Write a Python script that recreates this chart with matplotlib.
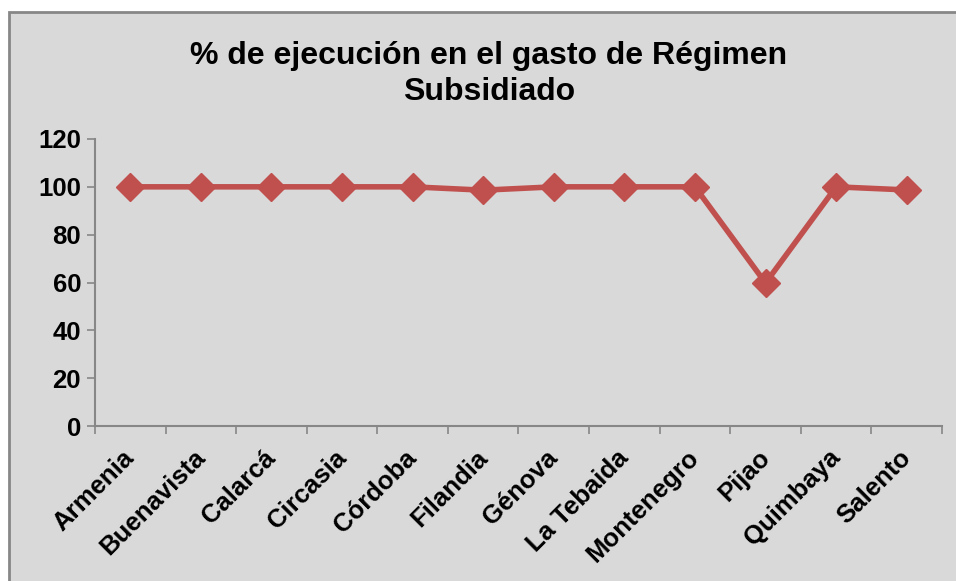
import matplotlib
matplotlib.use("Agg")
import matplotlib.pyplot as plt
from matplotlib.patches import Rectangle
from matplotlib.transforms import ScaledTranslation
import numpy as np

categories = ["Armenia", "Buenavista", "Calarcá", "Circasia", "Córdoba", "Filandia",
              "Génova", "La Tebaida", "Montenegro", "Pijao", "Quimbaya", "Salento"]
values = [100, 100, 100, 100, 100, 98.6, 100, 100, 100, 59.8, 100, 98.7]
yticks = [0, 20, 40, 60, 80, 100, 120]
title = "% de ejecución en el gasto de Régimen\nSubsidiado"

plt.rcParams['font.family'] = ['Liberation Sans', 'DejaVu Sans']
plt.rcParams['font.weight'] = 'bold'

W, H = 956, 581
fig = plt.figure(figsize=(W/100, H/100), dpi=100, facecolor='white')

# chart area background
fig.patches.append(Rectangle((9/W, -0.01), 1.02 - 9/W, 1 - 12/H + 0.01,
                             transform=fig.transFigure, facecolor='#d9d9d9',
                             edgecolor='#878787', linewidth=2, zorder=-10))

ax = fig.add_axes([95/W, (H-426)/H, (942-95)/W, (426-139)/H])
ax.set_facecolor('none')
ax.set_zorder(5)

x = np.arange(len(categories))
ax.plot(x, values, color='#c0504d', linewidth=4, marker='D', markersize=14,
        markeredgecolor='#c0504d', markerfacecolor='#c0504d', solid_joinstyle='miter',
        clip_on=False)

ax.set_xlim(-0.5, len(categories) - 0.5)
ax.set_ylim(0, 120)
ax.set_yticks(yticks)
ax.set_yticklabels([str(v) for v in yticks], fontsize=18.5, fontweight='bold')
ax.set_xticks(x)
ax.set_xticklabels(categories, rotation=45, ha='right', rotation_mode='anchor',
                   fontsize=18.5, fontweight='bold')
ax.tick_params(axis='x', which='major', length=0, pad=14)
ax.set_xticks(np.arange(-0.5, len(categories) + 0.5, 1), minor=True)
ax.tick_params(axis='x', which='minor', length=6, color='#878787', width=1.2, direction='out')
ax.tick_params(axis='y', length=6, color='#878787', width=1.2, direction='out', pad=4)

off = ScaledTranslation(-8/100, 0, fig.dpi_scale_trans)
for lbl in ax.get_xticklabels():
    lbl.set_transform(lbl.get_transform() + off)

for s in ['top', 'right']:
    ax.spines[s].set_visible(False)
for s in ['left', 'bottom']:
    ax.spines[s].set_color('#878787')
    ax.spines[s].set_linewidth(1.5)

fig.text(489/W, 1 - 74/H, title, ha='center', va='center', fontsize=23,
         fontweight='bold', linespacing=1.3, zorder=6)

fig.savefig('out.png', dpi=100, facecolor='white')
